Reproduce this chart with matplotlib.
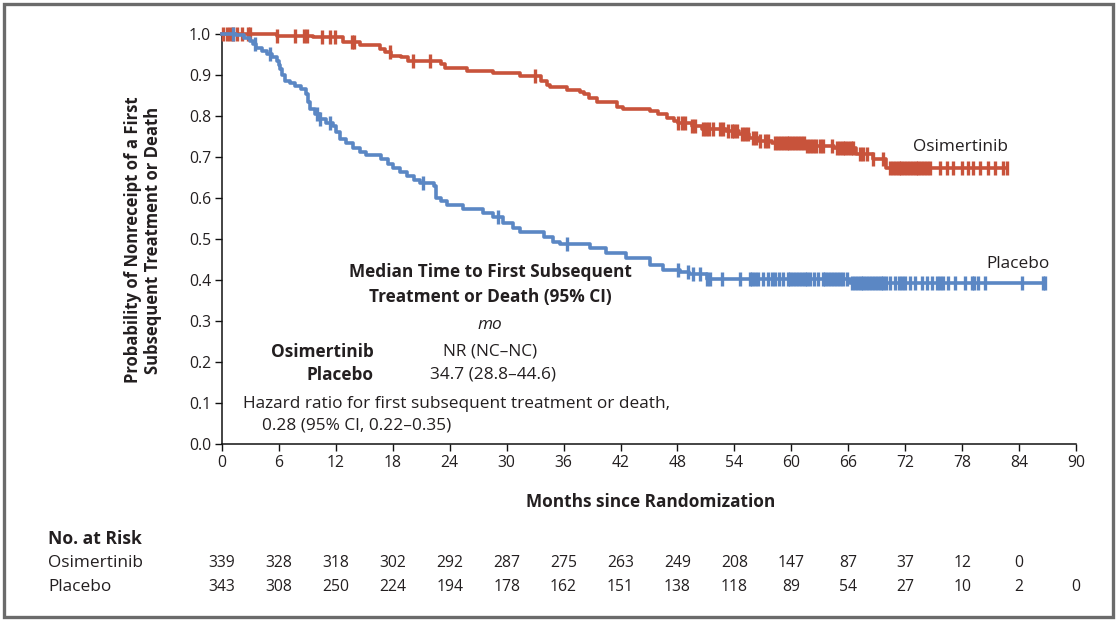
import numpy as np
import matplotlib
matplotlib.use("Agg")
import matplotlib.pyplot as plt
import matplotlib.transforms as mtransforms
from matplotlib.patches import Rectangle

plt.rcParams['font.family'] = ['Open Sans', 'DejaVu Sans']

# Kaplan-Meier step data (time in months, probability after the step)
osi_t = [0, 5.8, 9.6, 12.7, 14.5, 16.6, 17.2, 17.8, 18.9, 19.6, 23.1, 23.5, 25.8,
         28.6, 31.4, 33.6, 34.3, 34.6, 36.4, 37.7, 38.2, 38.7, 39.5, 41.6, 42.3,
         45.1, 46.0, 46.9, 47.6, 48.1, 49.5, 50.6, 53.1, 54.5, 55.5, 56.6, 58.0,
         61.5, 64.5, 66.8, 68.6, 70.0, 82.7]
osi_s = [1.0, 0.996, 0.992, 0.981, 0.972, 0.963, 0.955, 0.947, 0.943, 0.935, 0.927,
         0.918, 0.910, 0.906, 0.898, 0.886, 0.876, 0.870, 0.864, 0.858, 0.853, 0.844,
         0.833, 0.823, 0.818, 0.812, 0.804, 0.794, 0.788, 0.782, 0.776, 0.769, 0.764,
         0.756, 0.747, 0.739, 0.733, 0.727, 0.722, 0.707, 0.694, 0.674, 0.674]

pla_t = [0, 1.5, 2.3, 2.9, 3.3, 3.6, 4.2, 4.7, 5.3, 5.8, 6.0, 6.1, 6.3, 6.6, 7.2,
         7.7, 8.3, 8.9, 9.1, 9.3, 9.8, 10.3, 11.0, 11.7, 12.0, 12.4, 13.1, 13.8,
         14.5, 15.2, 16.8, 17.5, 18.05, 18.8, 19.5, 20.2, 20.9, 22.3, 22.6, 23.1,
         23.7, 25.4, 27.5, 28.6, 29.6, 30.7, 31.4, 33.9, 34.9, 35.6, 38.8, 40.5,
         42.6, 45.1, 46.5, 48.3, 49.2, 51.1, 66.2, 86.7]
pla_s = [1.0, 0.997, 0.990, 0.984, 0.975, 0.967, 0.958, 0.951, 0.944, 0.935, 0.925,
         0.914, 0.900, 0.886, 0.880, 0.874, 0.866, 0.853, 0.835, 0.817, 0.805, 0.792,
         0.783, 0.776, 0.760, 0.743, 0.733, 0.723, 0.712, 0.704, 0.695, 0.684, 0.674,
         0.664, 0.654, 0.645, 0.637, 0.629, 0.601, 0.592, 0.584, 0.572, 0.564, 0.554,
         0.538, 0.526, 0.518, 0.506, 0.493, 0.488, 0.477, 0.465, 0.453, 0.437, 0.424,
         0.420, 0.414, 0.402, 0.392, 0.392]

# censoring times
osi_cens = [0.15, 0.5, 0.85, 1.2, 1.6, 2.1, 2.7, 2.95, 5.8, 7.7, 8.6, 9.0, 10.5, 11.4,
            11.9, 13.7, 13.9, 17.7, 20.1, 21.9, 33.0,
            48.1, 48.5, 48.8, 49.5, 49.8, 50.7, 51.0, 51.3, 51.7, 52.5, 52.8, 53.3,
            53.7, 54.0, 54.3, 54.8, 55.1, 55.4, 56.0, 56.3, 56.7, 57.2, 57.5, 58.3,
            58.6, 58.9, 59.2, 59.5, 59.8, 60.1, 60.4, 60.7, 61.0, 61.3, 61.6, 62.0,
            62.3, 62.6, 63.0, 63.3, 64.3, 64.8, 65.1, 65.4, 65.7, 66.0, 66.3, 66.5,
            67.2, 67.6, 68.0, 68.6, 69.7, 70.4, 70.7, 71.0, 71.3, 71.6, 71.9, 72.2,
            72.5, 72.8, 73.1, 73.4, 73.7, 74.0, 74.3, 74.6, 75.7, 76.4, 77.0, 78.0,
            78.6, 79.1, 79.9, 80.7, 81.5, 82.3, 82.7]
pla_cens = [1.2, 3.5, 5.1, 10.0, 10.3, 11.4, 21.2, 29.1, 36.4, 48.1, 49.1, 49.6, 50.4,
            51.1, 51.4, 52.7, 54.6, 55.6, 55.9, 56.2, 56.5, 57.0, 57.5, 58.0, 58.3,
            58.7, 59.1, 59.6, 59.9, 60.2, 60.5, 60.8, 61.1, 61.4, 61.7, 62.0, 62.4,
            62.8, 63.3, 63.6, 63.9, 64.2, 64.5, 64.8, 65.1, 65.4, 65.9, 66.4, 66.7,
            67.0, 67.3, 67.6, 67.9, 68.2, 68.5, 68.8, 69.1, 69.4, 69.7, 70.0, 70.4,
            70.9, 71.3, 71.7, 72.0, 72.5, 73.0, 73.8, 74.3, 74.8, 75.4, 75.7, 76.0,
            76.5, 77.3, 78.3, 79.0, 79.3, 79.7, 80.4, 84.3, 86.5, 86.7]

risk_months = [0, 6, 12, 18, 24, 30, 36, 42, 48, 54, 60, 66, 72, 78, 84, 90]
osi_risk = [339, 328, 318, 302, 292, 287, 275, 263, 249, 208, 147, 87, 37, 12, 0]
pla_risk = [343, 308, 250, 224, 194, 178, 162, 151, 138, 118, 89, 54, 27, 10, 2, 0]

red = '#C8533B'
blue = '#5B87C4'
txt = '#231F20'
fs = 12.4

fig = plt.figure(figsize=(11.16, 6.2), dpi=100)
ax = fig.add_axes([222 / 1116, 1 - 444 / 620, 854 / 1116, 410 / 620])


def at(times, surv, t):
    idx = np.searchsorted(times, t, side='right') - 1
    return np.array(surv)[idx]


for t, s, c, col in [(osi_t, osi_s, osi_cens, red), (pla_t, pla_s, pla_cens, blue)]:
    ax.step(t, s, where='post', color=col, lw=2.6, clip_on=False, zorder=3)
    ax.plot(c, at(t, s, c), ls='none', marker='|', ms=10, mew=2.4, color=col,
            clip_on=False, zorder=3)

ax.set_xlim(0, 90)
ax.set_ylim(0, 1.0)
ax.set_xticks(range(0, 91, 6))
ax.set_yticks(np.arange(0, 1.01, 0.1))
ax.set_yticklabels([f'{v:.1f}' for v in np.arange(0, 1.01, 0.1)])
for side in ['top', 'right']:
    ax.spines[side].set_visible(False)
for side in ['left', 'bottom']:
    ax.spines[side].set_color('#111111')
    ax.spines[side].set_linewidth(1.1)
ax.tick_params(direction='out', length=5, width=1, colors='#111111',
               labelsize=11.3, labelcolor=txt, pad=3)

ax.text(77.8, 0.725, 'Osimertinib', ha='center', va='center', fontsize=fs, color=txt)
ax.text(83.9, 0.44, 'Placebo', ha='center', va='center', fontsize=fs, color=txt)

ax.text(28.3, 0.42, 'Median Time to First Subsequent', ha='center', va='center',
        fontsize=fs, fontweight='bold', color=txt)
ax.text(28.3, 0.359, 'Treatment or Death (95% CI)', ha='center', va='center',
        fontsize=fs, fontweight='bold', color=txt)
ax.text(28.2, 0.291, 'mo', ha='center', va='center', fontsize=fs, style='italic', color=txt)
ax.text(16.0, 0.225, 'Osimertinib', ha='right', va='center', fontsize=fs,
        fontweight='bold', color=txt)
ax.text(16.0, 0.169, 'Placebo', ha='right', va='center', fontsize=fs,
        fontweight='bold', color=txt)
ax.text(28.2, 0.225, 'NR (NC\u2013NC)', ha='center', va='center', fontsize=fs, color=txt)
ax.text(28.6, 0.169, '34.7 (28.8\u201344.6)', ha='center', va='center', fontsize=fs, color=txt)
ax.text(2.2, 0.098, 'Hazard ratio for first subsequent treatment or death,', ha='left',
        va='center', fontsize=fs, color=txt)
ax.text(4.2, 0.046, '0.28 (95% CI, 0.22\u20130.35)', ha='left', va='center',
        fontsize=fs, color=txt)

fig.text(143 / 1116, 1 - 240 / 620,
         'Probability of Nonreceipt of a First\nSubsequent Treatment or Death',
         rotation=90, ha='center', va='center', fontsize=12, fontweight='bold',
         color=txt, linespacing=1.1)
fig.text(651 / 1116, 1 - 502 / 620, 'Months since Randomization', ha='center',
         va='center', fontsize=fs, fontweight='bold', color=txt)

fig.text(48 / 1116, 1 - 539 / 620, 'No. at Risk', ha='left', va='center',
         fontsize=12.6, fontweight='bold', color=txt)
fig.text(48 / 1116, 1 - 563 / 620, 'Osimertinib', ha='left', va='center',
         fontsize=fs, color=txt)
fig.text(48 / 1116, 1 - 587 / 620, 'Placebo', ha='left', va='center',
         fontsize=fs, color=txt)

trans = mtransforms.blended_transform_factory(ax.transData, fig.transFigure)
for m, n in zip(risk_months, osi_risk):
    ax.text(m, 1 - 563 / 620, str(n), transform=trans, ha='center', va='center',
            fontsize=11.3, color=txt, clip_on=False)
for m, n in zip(risk_months, pla_risk):
    ax.text(m, 1 - 587 / 620, str(n), transform=trans, ha='center', va='center',
            fontsize=11.3, color=txt, clip_on=False)

fig.patches.append(Rectangle((3.5 / 1116, 3.5 / 620), 1109 / 1116, 613 / 620,
                             transform=fig.transFigure, fill=False,
                             edgecolor='#6B6B6B', lw=2.4))

fig.savefig('out.png', dpi=100)
